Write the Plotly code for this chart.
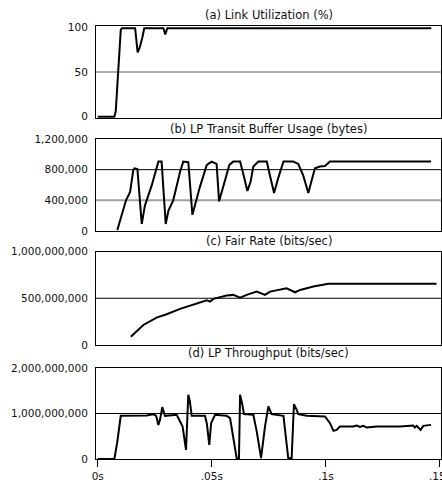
import plotly.graph_objects as go

# (a) Link Utilization (%)
A_t = [0, 0.0073, 0.0079, 0.0083, 0.0090, 0.0096, 0.0101, 0.0106, 0.0164, 0.0175,
       0.0185, 0.0195, 0.0204, 0.0288, 0.0296, 0.0305, 0.1462]
A_v = [0, 0, 6, 21, 50, 76, 97, 99, 99, 72, 78, 88, 99, 99, 92, 99, 99]

# (b) LP Transit Buffer Usage (bytes)
B_t = [0.0086, 0.0101, 0.0124, 0.0142, 0.0156, 0.0161, 0.0174, 0.0193, 0.0207, 0.0237,
       0.0266, 0.0280, 0.0298, 0.0310, 0.0331, 0.0361, 0.0375, 0.0397, 0.0415, 0.0448,
       0.0478, 0.0499, 0.0521, 0.0532, 0.0551, 0.0577, 0.0594, 0.0624, 0.0641, 0.0656,
       0.0670, 0.0682, 0.0704, 0.0741, 0.0755, 0.0773, 0.0792, 0.0814, 0.0857, 0.0879,
       0.0900, 0.0923, 0.0936, 0.0952, 0.0974, 0.0996, 0.1018, 0.1461]
B_v = [13000, 158000, 400000, 510000, 796000, 818000, 809000, 92000, 334000, 598000,
       905000, 905000, 92000, 268000, 400000, 774000, 905000, 897000, 211000, 576000,
       862000, 905000, 875000, 387000, 598000, 862000, 905000, 905000, 708000, 523000,
       642000, 840000, 905000, 905000, 720000, 497000, 700000, 905000, 905000, 875000,
       730000, 497000, 642000, 818000, 840000, 848000, 905000, 905000]

# (c) Fair Rate (bits/sec)
C_t = [0.0145, 0.0200, 0.0258, 0.0302, 0.0361, 0.0419, 0.0478, 0.0492, 0.0507, 0.0565,
       0.0594, 0.0624, 0.0653, 0.0697, 0.0733, 0.0755, 0.0799, 0.0828, 0.0865, 0.0887,
       0.0945, 0.1011, 0.1485]
C_v = [89e6, 214e6, 293e6, 329e6, 386e6, 429e6, 479e6, 464e6, 493e6, 529e6,
       536e6, 507e6, 536e6, 571e6, 536e6, 571e6, 589e6, 607e6, 564e6, 589e6,
       625e6, 654e6, 654e6]

# (d) LP Throughput (bits/sec)
D_t = [0, 0.0073, 0.0086, 0.0101, 0.0215, 0.0244, 0.0256, 0.0266, 0.0273, 0.0283,
       0.0295, 0.0346, 0.0361, 0.0372, 0.0387, 0.0397, 0.0404, 0.0412, 0.0470, 0.0478,
       0.0489, 0.0497, 0.0514, 0.0565, 0.0580, 0.0594, 0.0609, 0.0619, 0.0624, 0.0634,
       0.0641, 0.0682, 0.0697, 0.0716, 0.0733, 0.0748, 0.0762, 0.0814, 0.0825, 0.0835,
       0.0850, 0.0860, 0.0872, 0.0879, 0.0916, 0.0996, 0.1018, 0.1033, 0.1047, 0.1062,
       0.1120, 0.1135, 0.1149, 0.1164, 0.1179, 0.1223, 0.1325, 0.1383, 0.1390, 0.1398,
       0.1415, 0.1427, 0.1461]
D_v = [0, 0, 382e6, 949e6, 956e6, 985e6, 949e6, 750e6, 860e6, 1140e6,
       949e6, 971e6, 824e6, 713e6, 199e6, 1412e6, 1265e6, 949e6, 949e6, 787e6,
       309e6, 787e6, 971e6, 949e6, 897e6, 456e6, 20e6, 20e6, 1412e6, 1191e6,
       985e6, 971e6, 603e6, 20e6, 713e6, 1154e6, 985e6, 949e6, 456e6, 20e6,
       20e6, 1206e6, 1081e6, 985e6, 949e6, 934e6, 787e6, 618e6, 640e6, 713e6,
       713e6, 735e6, 706e6, 728e6, 691e6, 713e6, 713e6, 735e6, 691e6, 728e6,
       640e6, 728e6, 750e6]

TITLES = ["(a) Link Utilization (%)", "(b) LP Transit Buffer Usage (bytes)",
          "(c) Fair Rate (bits/sec)", "(d) LP Throughput (bits/sec)"]
X_TICKS = [0, 0.05, 0.1, 0.15]
X_LABELS = ["0s", ".05s", ".1s", ".15s"]
Y_TICKS = [[0, 50, 100], [0, 400000, 800000, 1200000], [0, 500e6, 1e9], [0, 1e9, 2e9]]
Y_RANGES = [[-1.5, 101.5], [0, 1.2e6], [0, 1e9], [0, 2e9]]

H = 459.0
boxes = [(26, 118), (139, 231), (251.5, 345), (368, 459)]
domains = [[(H - b) / H, (H - t) / H] for t, b in boxes]
title_y = [15, 129, 241, 353]

series = [(A_t, A_v), (B_t, B_v), (C_t, C_v), (D_t, D_v)]
fig = go.Figure()
font = dict(family="DejaVu Sans, Liberation Sans, Arial", size=10.5, color="#111")

layout = dict(width=442, height=484, margin=dict(l=96, r=1, t=0, b=25),
              paper_bgcolor="white", plot_bgcolor="white", showlegend=False,
              font=font)
for i, (t, v) in enumerate(series):
    sx = "" if i == 0 else str(i + 1)
    fig.add_trace(go.Scatter(x=t, y=v, mode="lines", xaxis="x" + sx, yaxis="y" + sx,
                             line=dict(color="black", width=2), hoverinfo="skip"))
    layout["xaxis" + sx] = dict(
        range=[-0.00075, 0.15045], anchor="y" + sx, showgrid=False, zeroline=False,
        showline=True, mirror=True, linecolor="black", linewidth=1,
        tickvals=X_TICKS, ticktext=X_LABELS, showticklabels=(i == 3),
        ticks="outside" if i == 3 else "", ticklen=7, tickcolor="black",
        ticklabeloverflow="allow", automargin=False, tickfont=dict(size=10.5))
    layout["yaxis" + sx] = dict(
        range=Y_RANGES[i], domain=domains[i], anchor="x" + sx, showgrid=False,
        zeroline=False, showline=True, mirror=True, linecolor="black", linewidth=1,
        tickvals=Y_TICKS[i], tickformat=",d", ticks="", ticklabelstandoff=5,
        automargin=False, tickfont=dict(size=10.5))

shapes = []
def hline(ref, y, color, width):
    shapes.append(dict(type="line", xref=ref.replace("y", "x") + " domain", yref=ref,
                       x0=0, x1=1, y0=y, y1=y, layer="below",
                       line=dict(color=color, width=width)))
hline("y", 50, "#5a5a5a", 1)
hline("y2", 800000, "black", 1)
hline("y2", 400000, "#a0a0a0", 2)
hline("y3", 500e6, "black", 1)
hline("y4", 1e9, "black", 1)
layout["shapes"] = shapes

anns = []
for txt, ty in zip(TITLES, title_y):
    anns.append(dict(text=txt, xref="paper", yref="paper", x=0.5, y=(H - ty) / H,
                     xanchor="center", yanchor="middle", showarrow=False,
                     font=dict(size=11.5, color="#111")))
layout["annotations"] = anns

fig.update_layout(**layout)
fig.write_html("out.html", config={"displayModeBar": False},
               post_script="document.body.style.margin='0';document.body.style.overflow='hidden';")
